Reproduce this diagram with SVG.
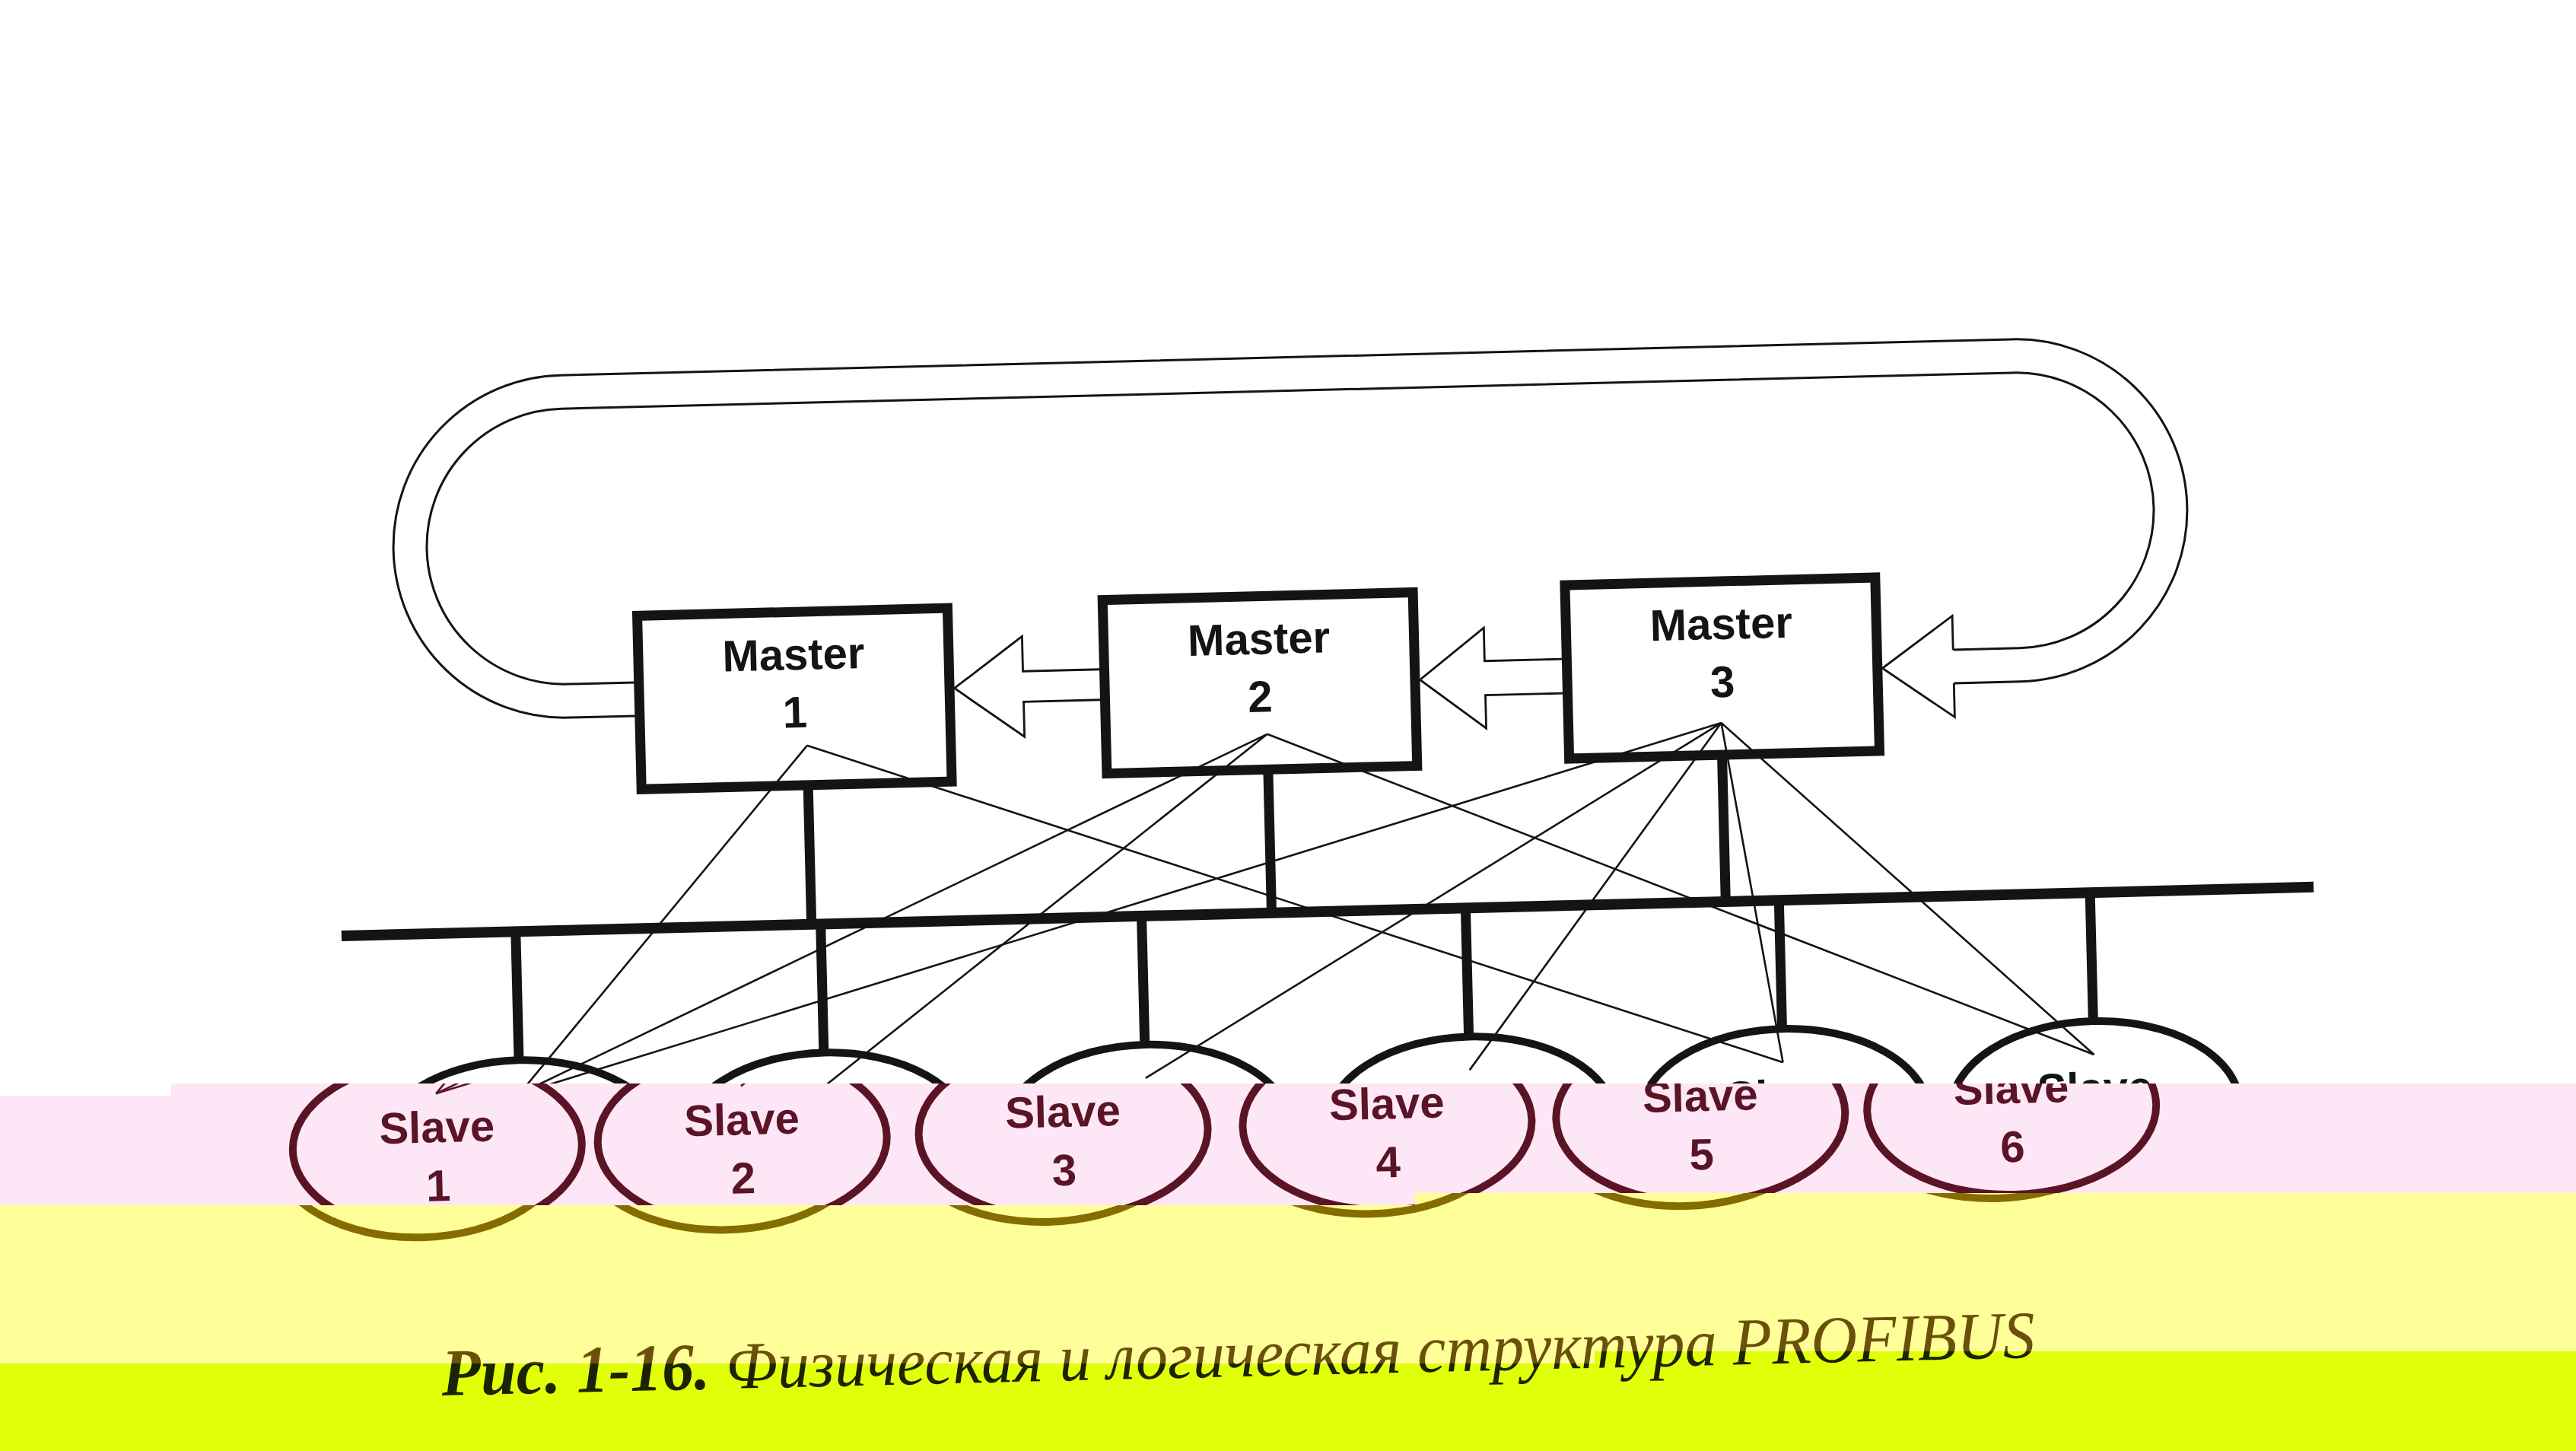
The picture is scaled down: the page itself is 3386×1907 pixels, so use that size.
<svg xmlns="http://www.w3.org/2000/svg" xmlns:xlink="http://www.w3.org/1999/xlink" width="3386" height="1907" viewBox="0 0 3386 1907">
<style>
.box{fill:#fff;stroke:currentColor;stroke-width:13}
.slave{fill:none;stroke:currentColor;stroke-width:10}
.thick{fill:none;stroke:currentColor;stroke-width:13}
.bus{fill:none;stroke:currentColor;stroke-width:14}
.thin{fill:none;stroke:currentColor;stroke-width:2.6}
.loop{fill:none;stroke:currentColor;stroke-width:3}
.arrow{fill:#fff;stroke:currentColor;stroke-width:2.8;stroke-linejoin:miter}
.lbl{font-family:"Liberation Sans",Arial,Helvetica,sans-serif;font-size:58px;font-weight:bold;fill:currentColor;text-anchor:middle}
.cap{font-family:"Liberation Serif","Times New Roman",serif;font-style:italic;font-size:88px;fill:currentColor}
</style>
<defs>
<clipPath id="clipTop"><polygon points="0,0 3386,0 3386,1424 225,1424 225,1440 0,1440"/></clipPath>
<clipPath id="clipPink"><polygon points="0,1440 225,1440 225,1424 3386,1424 3386,1568 1860,1568 1860,1584 0,1584"/></clipPath>
<clipPath id="clipYellow"><polygon points="0,1584 1860,1584 1860,1568 3386,1568 3386,1776 2096,1776 2096,1792 0,1792"/></clipPath>
<clipPath id="clipGreen"><polygon points="0,1792 2096,1792 2096,1776 3386,1776 3386,1907 0,1907"/></clipPath>
</defs>
<rect x="0" y="0" width="3386" height="1907" fill="#ffffff"/>
<polygon points="0,1440 225,1440 225,1424 3386,1424 3386,1568 1860,1568 1860,1584 0,1584" fill="#fde6f6"/>
<polygon points="0,1584 1860,1584 1860,1568 3386,1568 3386,1776 2096,1776 2096,1792 0,1792" fill="#ffff99"/>
<polygon points="0,1792 2096,1792 2096,1776 3386,1776 3386,1907 0,1907" fill="#e2ff0a"/>

<g clip-path="url(#clipTop)" style="color:#141414">
<g id="diagram" transform="rotate(-1.42 1696 695)">
  <g id="connectors">
    <path id="token-ring" class="loop" d="M829.5 919.5 H741.7 A225 225 0 0 1 741.7 469.5 H2650.3 A225 225 0 0 1 2650.3 919.5 H2563 M829.5 875.5 H741.7 A181 181 0 0 1 741.7 513.5 H2650.3 A181 181 0 0 1 2650.3 875.5 H2563"/>
    <path class="arrow" d="M2563 875.5 V831 L2469.5 897.5 L2563 964 V919.5" fill="none"/>
    <path class="arrow" d="M1441 873.5 H1340 V827.5 L1249.5 893.5 L1340 959.5 V913.5 H1441"/>
    <path class="arrow" d="M2049 875 H1947 V831.5 L1861.5 897.5 L1947 963.5 V920 H2049"/>
    <path class="bus" d="M436 1199 H3029"/>
    <path class="thick" d="M1054 1016 V1199 M1659 1010 V1199 M2256 1006 V1199"/>
    <path class="thick" d="M665 1199 V1368 M1066 1199 V1368 M1488 1199 V1368 M1914 1199 V1368 M2326 1199 V1368 M2735 1199 V1368"/>
  </g>
  <g id="master1"><rect class="box" x="835" y="788" width="408" height="228"/><text class="lbl" x="1039" y="864">Master</text><text class="lbl" x="1039" y="940">1</text></g>
  <g id="master2"><rect class="box" x="1447" y="782.5" width="408" height="228"/><text class="lbl" x="1651" y="858.5">Master</text><text class="lbl" x="1651" y="934.5">2</text></g>
  <g id="master3"><rect class="box" x="2055" y="778" width="408" height="228"/><text class="lbl" x="2259" y="854">Master</text><text class="lbl" x="2259" y="930">3</text></g>
  <g id="logical-links">
    <path class="thin" d="M1054 964 L665 1412 M1054 964 L2326 1412"/>
    <path class="thin" d="M1659 964 L665 1412 M1659 964 L1066 1412 M1659 964 L2735 1412"/>
    <path class="thin" d="M2256 964 L665 1412 M2256 964 L1488 1412 M2256 964 L1914 1412 M2256 964 L2326 1412 M2256 964 L2735 1412"/>
  </g>
  <g id="slave1"><ellipse class="slave" cx="665" cy="1482" rx="190" ry="114"/><text class="lbl" x="665" y="1476">Slave</text><text class="lbl" x="665" y="1553">1</text></g>
  <g id="slave2"><ellipse class="slave" cx="1066" cy="1482" rx="190" ry="114"/><text class="lbl" x="1066" y="1476">Slave</text><text class="lbl" x="1066" y="1553">2</text></g>
  <g id="slave3"><ellipse class="slave" cx="1488" cy="1482" rx="190" ry="114"/><text class="lbl" x="1488" y="1476">Slave</text><text class="lbl" x="1488" y="1553">3</text></g>
  <g id="slave4"><ellipse class="slave" cx="1914" cy="1482" rx="190" ry="114"/><text class="lbl" x="1914" y="1476">Slave</text><text class="lbl" x="1914" y="1553">4</text></g>
  <g id="slave5"><ellipse class="slave" cx="2326" cy="1482" rx="190" ry="114"/><text class="lbl" x="2326" y="1476">Slave</text><text class="lbl" x="2326" y="1553">5</text></g>
  <g id="slave6"><ellipse class="slave" cx="2735" cy="1482" rx="190" ry="114"/><text class="lbl" x="2735" y="1476">Slave</text><text class="lbl" x="2735" y="1553">6</text></g>
</g>
</g>

<g clip-path="url(#clipPink)"><use xlink:href="#diagram" href="#diagram" transform="translate(-110 0)" style="color:#5a1426"/></g>
<g clip-path="url(#clipYellow)"><use xlink:href="#diagram" href="#diagram" transform="translate(-133 5)" style="color:#846c00"/></g>

<g clip-path="url(#clipGreen)" style="color:#1a2400">
<text id="caption" class="cap" x="581" y="1834" textLength="2095" lengthAdjust="spacingAndGlyphs" transform="rotate(-1.37 581 1834)"><tspan font-weight="bold">Рис. 1-16.</tspan> Физическая и логическая структура PROFIBUS</text>
</g>
<g clip-path="url(#clipYellow)"><use xlink:href="#caption" href="#caption" style="color:#6a500a"/></g>
</svg>
